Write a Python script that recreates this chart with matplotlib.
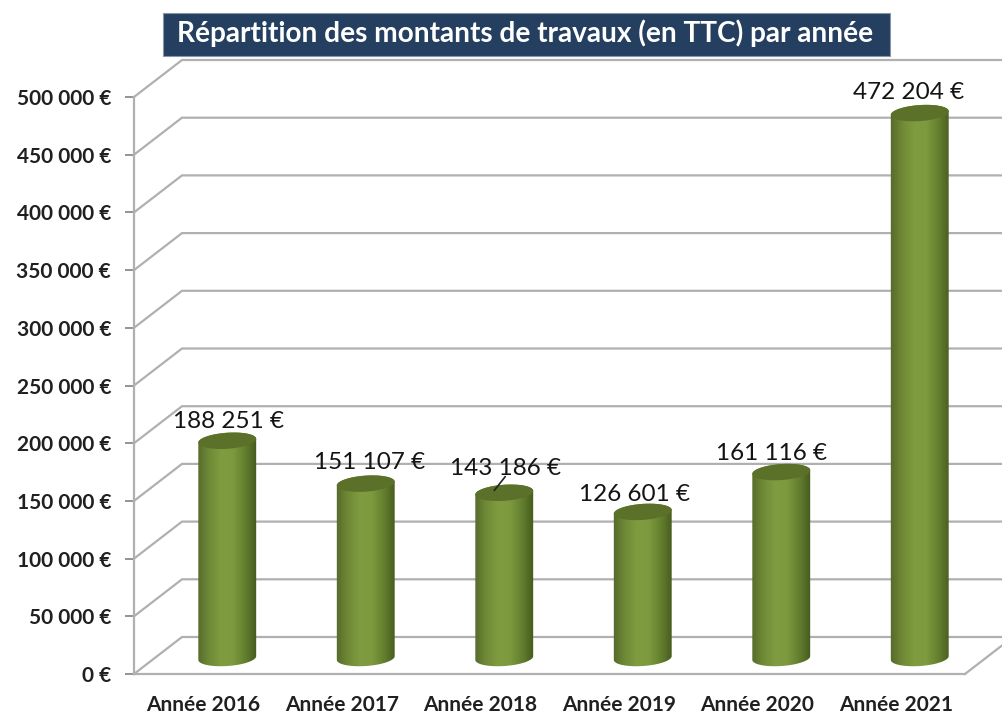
#!/usr/bin/env python

import numpy as np
from matplotlib import pyplot as plt
from matplotlib.colors import LinearSegmentedColormap
from matplotlib.patches import PathPatch, Rectangle
from matplotlib.path import Path

plt.rcParams['font.family'] = ['Lato', 'DejaVu Sans']

title = 'Répartition des montants de travaux (en TTC) par année'
years = ['Année 2016', 'Année 2017', 'Année 2018', 'Année 2019', 'Année 2020', 'Année 2021']
amounts = [188251, 151107, 143186, 126601, 161116, 472204]
amount_labels = ['188 251 €', '151 107 €', '143 186 €', '126 601 €', '161 116 €', '472 204 €']
y_ticks = [0, 50000, 100000, 150000, 200000, 250000, 300000, 350000, 400000, 450000, 500000]
y_tick_labels = ['0 €', '50 000 €', '100 000 €', '150 000 €', '200 000 €', '250 000 €',
                 '300 000 €', '350 000 €', '400 000 €', '450 000 €', '500 000 €']

# layout, in pixels
W, H = 1002, 717
LEFT, RIGHT, BOTTOM, TOP = 134, 965, 674, 97
DEPTH_X, DEPTH_Y = 48, 37
BAR_DX, BAR_DY = 24, 16
BAR_A, BAR_B = 29, 8
TILT = np.radians(4)
label_offsets = [(1, 9), (4, 11), (1, 14), (-8, 7), (-10, 8), (-11, 10)]

GRID = '#b0b0b0'
shade = LinearSegmentedColormap.from_list(
    'cyl', ['#56692a', '#6f8a36', '#7f9c40', '#7d9a3e', '#64802f', '#465a1e'])

fig = plt.figure(figsize=(W / 100, H / 100), dpi=100, facecolor='white')
ax = fig.add_axes([LEFT / W, 1 - BOTTOM / H, (RIGHT - LEFT) / W, (BOTTOM - TOP) / H])
ax.set_xlim(-0.5, len(years) - 0.5)
ax.set_ylim(0, 500000)
ax.set_facecolor('none')

per_x = (RIGHT - LEFT) / len(years)
per_y = (BOTTOM - TOP) / 500000
dx, dy = DEPTH_X / per_x, DEPTH_Y / per_y
x0, x1 = ax.get_xlim()

# back wall grid lines and the floor
for v in y_ticks:
    ax.plot([x0, x0 + dx, x1 + dx], [v, v + dy, v + dy], color=GRID, lw=1.6,
            clip_on=False, zorder=1, solid_joinstyle='miter')
ax.plot([x1, x1 + dx], [0, dy], color=GRID, lw=1.6, clip_on=False, zorder=1)


def ellipse_xy(cx, cy, t):
    # tilted ellipse, drawn round in pixels then put back in data units
    ex = BAR_A * np.cos(t) * np.cos(TILT) - BAR_B * np.sin(t) * np.sin(TILT)
    ey = BAR_A * np.cos(t) * np.sin(TILT) + BAR_B * np.sin(t) * np.cos(TILT)
    return np.column_stack([cx + ex / per_x, cy + ey / per_y])


def closed(xy):
    return Path(np.vstack([xy, xy[:1]]), closed=True)


gradient = np.linspace(0, 1, 128).reshape(1, -1)
for i, value in enumerate(amounts):
    cx = i + BAR_DX / per_x
    base = BAR_DY / per_y
    top = value + base
    lower = ellipse_xy(cx, base, np.linspace(np.pi, 2 * np.pi, 60))
    upper = ellipse_xy(cx, top, np.linspace(0, np.pi, 60))
    body = PathPatch(closed(np.vstack([lower, upper])), transform=ax.transData,
                     fc='none', ec='none')
    ax.add_patch(body)
    im = ax.imshow(gradient, cmap=shade, aspect='auto', zorder=3, interpolation='bilinear',
                   extent=[cx - (BAR_A + 1) / per_x, cx + (BAR_A + 1) / per_x, base - 20000, top + 20000])
    im.set_clip_path(body)
    cap = ellipse_xy(cx, top, np.linspace(0, 2 * np.pi, 120))
    ax.add_patch(PathPatch(closed(cap), fc='#5b7029', ec='none', zorder=4))
    ax.annotate(amount_labels[i], (cx, top), xytext=label_offsets[i], textcoords='offset pixels',
                ha='center', va='bottom', fontsize=17.5, color='#141414',
                annotation_clip=False, zorder=6)

# leader line of the 2018 label
ax.annotate('', (2 + BAR_DX / per_x - 10 / per_x, amounts[2] + BAR_DY / per_y + 2000),
            xytext=(2 + BAR_DX / per_x + 1 / per_x, amounts[2] + BAR_DY / per_y + 14000),
            arrowprops=dict(arrowstyle='-', color='#222222', lw=1.2, shrinkA=0, shrinkB=0),
            annotation_clip=False, zorder=6)

ax.set_ylim(0, 500000)
ax.set_xlim(x0, x1)
for name in ['top', 'right']:
    ax.spines[name].set_visible(False)
for name in ['left', 'bottom']:
    ax.spines[name].set_color(GRID)
    ax.spines[name].set_linewidth(1.6)
ax.set_axisbelow(True)

ax.set_yticks(y_ticks)
ax.set_yticklabels(y_tick_labels, fontsize=15, fontweight='bold', color='#202020')
ax.tick_params(axis='y', length=6.5, width=1.2, color='#808080', pad=10)
ax.set_xticks(range(len(years)))
ax.set_xticklabels(years, fontsize=15, fontweight='bold', color='#202020')
ax.tick_params(axis='x', length=0, pad=15)

# title banner
fig.add_artist(Rectangle((163 / W, 1 - 56 / H), 727 / W, 43 / H, transform=fig.transFigure,
                         fc='#243f60', ec='#8a96a5', lw=0.8))
fig.text(525 / W, 1 - 33 / H, title, ha='center', va='center', color='white',
         fontsize=20.2, fontweight='bold')

fig.savefig('out.png', dpi=100)
